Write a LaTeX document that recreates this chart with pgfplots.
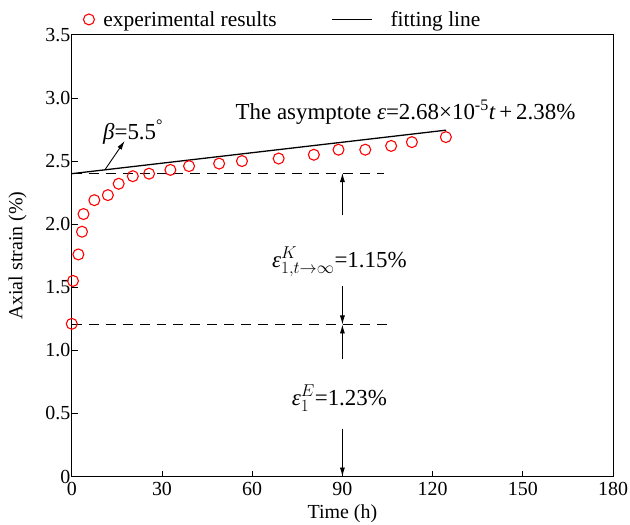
\documentclass[border=0pt]{standalone}
\usepackage{pgfplots}
\pgfplotsset{compat=1.18}
\usepackage{fontspec}
\setmainfont{Liberation Serif}
\usetikzlibrary{arrows.meta}

\begin{document}
\begin{tikzpicture}[font=\fontsize{20bp}{24bp}\selectfont]
\begin{axis}[
  scale only axis,
  width=543bp, height=443bp,
  xmin=0, xmax=180, ymin=0, ymax=3.5,
  xtick={0,30,...,180},
  ytick={0,0.5,...,3.5},
  yticklabels={0,0.5,1.0,1.5,2.0,2.5,3.0,3.5},
  tick align=inside,
  xtick pos=bottom, ytick pos=left,
  major tick length=6bp,
  tick style={black, line width=0.8pt},
  axis line style={line width=1pt},
  /pgf/number format/assume math mode=true,
  yticklabel style={xshift=2bp},
  xticklabel style={yshift=-2bp},
  xlabel={Time (h)},
  ylabel={Axial strain (\%)},
  xlabel style={yshift=-2bp},
  ylabel style={yshift=12bp},
  legend columns=2,
  legend style={at={(0.0,1.0)}, anchor=south west, xshift=8bp, yshift=3bp,
    draw=none, fill=none, font=\fontsize{21.5bp}{24bp}\selectfont,
    /tikz/every even column/.append style={column sep=53bp}},
  clip=false,
]
\addplot[only marks, mark=o, red, mark size=5.5bp, line width=1.1pt,
  legend image code/.code={\draw[red, line width=1.1pt] (0bp,0bp) circle (5.5bp);
    \path (12bp,0bp);}]
  coordinates {
  (0,1.21)(0.4,1.55)(2.2,1.76)(3.4,1.94)(3.9,2.08)(7.5,2.19)(12,2.23)
  (15.6,2.32)(20.3,2.38)(25.7,2.40)(32.8,2.43)(39,2.46)(49,2.48)
  (56.6,2.50)(68.8,2.52)(80.5,2.55)(88.7,2.59)(97.6,2.59)(106.2,2.62)
  (113.1,2.65)(124.4,2.69)};
\addlegendentry{experimental results}
\addplot[black, line width=1.3pt,
  legend image code/.code={\draw[line width=1.3pt] (0bp,0bp) -- (40bp,0bp);
    \path (56bp,0bp);}]
  coordinates {(0,2.40)(124.5,2.745)};
\addlegendentry{fitting line}
% dashed reference lines
\addplot[black, dash pattern=on 10bp off 7bp, line width=0.9pt, forget plot] coordinates {(0,2.405)(103.8,2.405)};
\addplot[black, dash pattern=on 10bp off 7bp, line width=0.9pt, forget plot] coordinates {(0,1.205)(105.5,1.205)};
% dimension arrows
\addplot[black, line width=0.8pt, -{Latex[length=9bp,width=5bp]}, forget plot] coordinates {(90,2.07)(90,2.405)};
\addplot[black, line width=0.8pt, -{Latex[length=9bp,width=5bp]}, forget plot] coordinates {(90,1.51)(90,1.205)};
\addplot[black, line width=0.8pt, -{Latex[length=9bp,width=5bp]}, forget plot] coordinates {(90,0.93)(90,1.205)};
\addplot[black, line width=0.8pt, -{Latex[length=9bp,width=5bp]}, forget plot] coordinates {(90,0.38)(90,0)};
\addplot[black, line width=0.9pt, -{Latex[length=9bp,width=5bp]}, forget plot] coordinates {(11,2.43)(17.6,2.66)};
% annotations
\node[font=\fontsize{23bp}{27bp}\selectfont] at (axis cs:111,2.89)
  {The asymptote \textit{ε}=2.68×10\textsuperscript{-5}\textit{t}\,+\,2.38\%};
\node[font=\fontsize{23bp}{27bp}\selectfont] at (axis cs:89,1.70)
  {$\mbox{\itshape ε}^{K}_{1,t\to\infty}$=1.15\%};
\node[font=\fontsize{23bp}{27bp}\selectfont] at (axis cs:89,0.62)
  {$\mbox{\itshape ε}^{E}_{1}$=1.23\%};
\node[font=\fontsize{23bp}{27bp}\selectfont] at (axis cs:20.4,2.73)
  {\textit{β}=5.5\textsuperscript{°}};
\coordinate (bl) at (rel axis cs:0,0);
\coordinate (tr) at (rel axis cs:1,1);
\end{axis}
% frame the picture as the reference does
\pgfresetboundingbox
\path ([shift={(-72bp,-48bp)}]bl) rectangle ([shift={(17bp,35bp)}]tr);
\end{tikzpicture}
\end{document}
